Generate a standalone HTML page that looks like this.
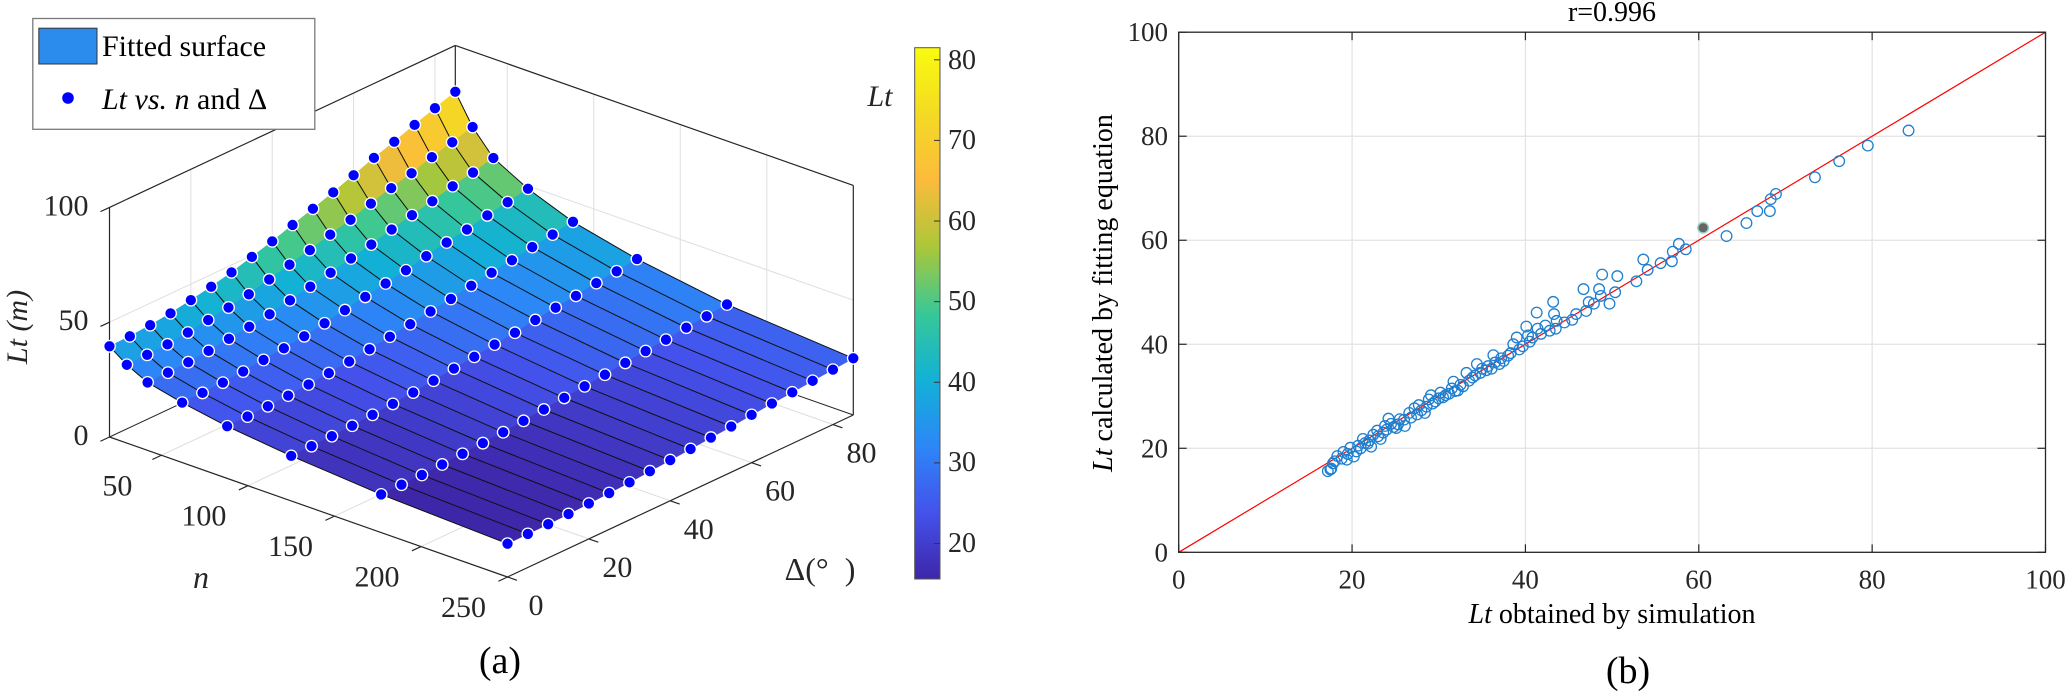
<!DOCTYPE html>
<html><head><meta charset="utf-8"><style>
html,body{margin:0;padding:0;background:#fff;}
svg, svg text{font-family:"Liberation Serif","Times New Roman",serif;}
</style></head><body>
<svg id="fig" width="2067" height="692" viewBox="0 0 2067 692" xmlns="http://www.w3.org/2000/svg" font-family="Liberation Serif, serif">
<defs>
<linearGradient id="parula" x1="0" y1="1" x2="0" y2="0">
<stop offset="0" stop-color="#3e26a8"/><stop offset="0.125" stop-color="#4452ec"/>
<stop offset="0.25" stop-color="#2c87f7"/><stop offset="0.375" stop-color="#12b1d6"/>
<stop offset="0.5" stop-color="#37c897"/><stop offset="0.625" stop-color="#abc739"/>
<stop offset="0.75" stop-color="#fbbb3c"/><stop offset="0.875" stop-color="#f4da24"/>
<stop offset="1" stop-color="#f9fb0e"/></linearGradient>
</defs>
<g id="plot3d" font-family="Liberation Serif, serif"></g>
<g id="scatter" font-family="Liberation Serif, serif"></g>
</svg>
<script>
// ---- 3D surface data ----
const nVals = [20,30,42,62,88,125,177,250];
const deltaVals = [0,5,10,15,20,25,30,35,40,45,50,55,60,65,70,75,80,85];
const ltRow20  = [39.5,39.7,40.4,41.4,43.0,44.7,46.8,49.4,52.0,55.0,57.9,60.9,64.2,67.6,70.5,73.7,76.8,79.8];
const ltRow30  = [34.1,34.3,34.7,35.7,37.0,38.3,39.9,42.2,44.5,46.7,49.3,51.6,54.5,57.1,59.4,62.3,64.6,67.1];
const ltRow42  = [29.6,29.7,30.1,30.9,32.0,33.1,34.4,36.3,38.1,40.0,42.1,44.0,46.4,48.5,50.4,52.8,54.6,56.8];
const ltRow62  = [26.1,26.2,26.5,27.2,28.1,29.0,30.1,31.6,33.2,34.8,36.5,38.1,40.1,41.9,43.4,45.4,47.0,48.7];
const ltRow88  = [22.7,22.8,23.1,23.6,24.3,25.1,26.0,27.2,28.5,29.8,31.2,32.5,34.1,35.6,36.9,38.5,39.8,41.2];
const ltRow125 = [19.6,19.7,19.9,20.3,20.9,21.5,22.3,23.3,24.4,25.4,26.6,27.6,29.0,30.2,31.2,32.6,33.6,34.8];
const ltRow177 = [16.6,16.7,16.8,17.2,17.7,18.2,18.8,19.6,20.4,21.3,22.2,23.1,24.1,25.1,25.9,27.0,27.8,28.8];
const ltRow250 = [14.5,14.6,14.7,15.0,15.4,15.8,16.3,17.0,17.7,18.4,19.2,19.9,20.8,21.6,22.3,23.2,23.9,24.7];
const ltGrid = [ltRow20,ltRow30,ltRow42,ltRow62,ltRow88,ltRow125,ltRow177,ltRow250];
const nTicks = [50,100,150,200,250];
const deltaTicks = [0,20,40,60,80];
const zTicks = [0,50,100];
const cbarTicks = [20,30,40,50,60,70,80];
const cLim = [15.6,81.5];

// ---- scatter data ----
const simX = [17.2,17.6,17.8,18.3,19.0,19.4,19.8,20.2,20.7,21.25,21.8,22.2,22.45,22.9,23.3,23.8,24.2,24.5,25.1,25.5,26.1,26.6,27.2,27.7,28.4,28.85,29.1,29.6,30.2,30.8,31.5,31.7,32.2,32.8,33.2,33.9,34.4,35.0,35.7,36.3,36.1,37.0,37.2,38.3,38.6,39.0,39.7,40.1,40.3,40.8,41.3,41.4,42.3,43.2,43.3,43.5,43.6,45.4,45.85,46.7,47.0,47.3,47.9,48.5,48.7,48.85,49.7,50.35,50.6,52.8,53.6,54.1,55.6,56.9,57.0,57.7,58.5,63.2,65.5,66.75,68.2,68.3,68.9,73.4,76.2,79.5,84.2,
17.5,18.0,18.8,19.5,20.5,21.0,21.5,22.0,23.0,23.6,24.0,24.8,25.3,26.0,26.8,27.5,28.0,28.6,29.3,30.0,30.5,31.2,31.9,32.5,33.5,34.2,34.8,35.5,36.5,37.5,38.0,39.3,40.5,41.8,42.8,44.5];
const fitY = [15.6,16.1,17.1,18.5,19.3,17.8,20.1,18.4,20.5,21.8,20.9,20.3,22.6,23.4,21.8,24.3,25.7,24.7,23.9,25.6,24.3,26.8,27.7,28.3,26.8,29.4,30.2,29.0,30.7,30.2,31.5,32.8,31.1,31.9,34.5,33.6,36.2,35.3,35.8,37.9,35.3,36.2,37.3,38.3,40.0,41.3,39.6,43.4,41.7,41.3,46.1,43.0,43.6,48.15,45.8,43.0,44.5,44.7,45.8,50.6,46.4,48.1,47.8,50.6,49.3,53.4,47.8,50.0,53.1,52.1,56.3,54.3,55.6,55.96,57.8,59.3,58.25,60.8,63.3,65.6,65.6,67.9,68.9,72.1,75.2,78.2,81.1,
15.9,17.5,18.0,18.9,19.4,20.0,21.0,21.5,22.3,23.0,23.6,24.1,24.6,25.5,25.9,26.5,27.3,28.0,28.6,29.6,29.8,30.5,31.0,32.2,33.0,34.0,34.5,35.0,36.5,36.8,37.8,39.0,40.5,42.0,42.6,44.2];
const highlightX = [60.5];
const highlightY = [62.4];
const axisTicks = [0,20,40,60,80,100];

const NS="http://www.w3.org/2000/svg";
const FONT="Liberation Serif, serif";
function mk(tag, attrs, parent){const e=document.createElementNS(NS,tag);for(const k in attrs)e.setAttribute(k,attrs[k]);if(tag==='text')e.setAttribute('font-family',FONT);parent.appendChild(e);return e;}

const pstops=[[62,38,168],[68,82,236],[44,135,247],[18,177,214],[55,200,151],[171,199,57],[251,187,60],[244,218,36],[249,251,14]];
function parula(v){let t=(v-cLim[0])/(cLim[1]-cLim[0]);t=Math.max(0,Math.min(1,t))*8;const i=Math.min(7,Math.floor(t)),f=t-i;const a=pstops[i],b=pstops[i+1];return `rgb(${a.map((c,k)=>Math.round(c+(b[k]-c)*f)).join(',')})`;}

const Lx=109.5,Ly=437,axn=398/230,ayn=140/230,axd=345.8/85,ayd=-162/85,kz=2.296;
function P(n,d,z){return [Lx+(n-20)*axn+d*axd, Ly+(n-20)*ayn+d*ayd-z*kz];}
const g3=document.getElementById('plot3d');
function line3(a,b,color,w,name){const l=mk('line',{x1:a[0],y1:a[1],x2:b[0],y2:b[1],stroke:color,'stroke-width':w},g3);return l;}
const nMin=20,nMax=250,dMax=85,zMax=100,grid='#dedede';
deltaTicks.filter(d=>d>0).forEach(d=>{line3(P(nMin,d,0),P(nMin,d,zMax),grid,1,'left-wall-gridline');line3(P(nMin,d,0),P(nMax,d,0),grid,1,'floor-gridline');});
nTicks.filter(n=>n<250).forEach(n=>{line3(P(n,dMax,0),P(n,dMax,zMax),grid,1,'right-wall-gridline');line3(P(n,0,0),P(n,dMax,0),grid,1,'floor-gridline');});
line3(P(nMin,0,50),P(nMin,dMax,50),grid,1,'left-wall-gridline');
line3(P(nMin,dMax,50),P(nMax,dMax,50),grid,1,'right-wall-gridline');
const bc='#262626';
line3(P(nMin,0,0),P(nMin,0,zMax),bc,1.2,'z-axis-line');
line3(P(nMin,0,zMax),P(nMin,dMax,zMax),bc,1.2,'box-edge');
line3(P(nMin,dMax,0),P(nMin,dMax,zMax),bc,1.2,'box-edge');
line3(P(nMin,dMax,zMax),P(nMax,dMax,zMax),bc,1.2,'box-edge');
line3(P(nMax,dMax,0),P(nMax,dMax,zMax),bc,1.2,'box-edge');
line3(P(nMin,0,0),P(nMin,dMax,0),bc,1,'box-edge');
line3(P(nMin,dMax,0),P(nMax,dMax,0),bc,1,'box-edge');
line3(P(nMin,0,0),P(nMax,0,0),bc,1.2,'n-axis-line');
line3(P(nMax,0,0),P(nMax,dMax,0),bc,1.2,'delta-axis-line');
const td=[-4.068,1.906],tl=Math.hypot(td[0],td[1]);
zTicks.forEach(z=>{const p=P(nMin,0,z);line3(p,[p[0]+td[0]/tl*10,p[1]+td[1]/tl*10],bc,1.2,'z-tick');
 const t=mk('text',{x:88.5,y:p[1]+8,'font-size':30,'text-anchor':'end',fill:'#262626'},g3);t.textContent=z;});
nTicks.forEach(n=>{const p=P(n,0,0);line3(p,[p[0]+td[0]/tl*10,p[1]+td[1]/tl*10],bc,1.2,'n-tick');
 const t=mk('text',{x:p[0]-44,y:p[1]+40,'font-size':30,'text-anchor':'middle',fill:'#262626'},g3);t.textContent=n;});
const tn=[axn,ayn],tnl=Math.hypot(axn,ayn);
deltaTicks.forEach(d=>{const p=P(nMax,d,0);line3(p,[p[0]+tn[0]/tnl*10,p[1]+tn[1]/tnl*10],bc,1.2,'delta-tick');
 const t=mk('text',{x:p[0]+28.5,y:p[1]+38,'font-size':30,'text-anchor':'middle',fill:'#262626'},g3);t.textContent=d;});
const faces=[];
for(let i=0;i<nVals.length-1;i++)for(let j=0;j<deltaVals.length-1;j++){
 const nc=(nVals[i]+nVals[i+1])/2,dc=(deltaVals[j]+deltaVals[j+1])/2;
 faces.push({i,j,key:(nc-20)*ayn+dc*ayd});}
faces.sort((a,b)=>a.key-b.key);
faces.forEach(f=>{const {i,j}=f;
 const pts=[[i,j],[i+1,j],[i+1,j+1],[i,j+1]].map(([a,b])=>P(nVals[a],deltaVals[b],ltGrid[a][b]));
 const zc=(ltGrid[i][j]+ltGrid[i+1][j]+ltGrid[i+1][j+1]+ltGrid[i][j+1])/4;
 const c=parula(zc);
 const pg=mk('polygon',{points:pts.map(p=>p.join(',')).join(' '),fill:c,stroke:c,'stroke-width':0.6},g3);
 
 });
deltaVals.forEach((d,j)=>{const pts=nVals.map((n,i)=>P(n,d,ltGrid[i][j]).join(','));
 const pl=mk('polyline',{points:pts.join(' '),fill:'none',stroke:'#111','stroke-width':1},g3);
 
 });
nVals.forEach((n,i)=>deltaVals.forEach((d,j)=>{const p=P(n,d,ltGrid[i][j]);
 const c=mk('ellipse',{cx:p[0],cy:p[1],rx:5.8,ry:5.8,fill:'#0000ff',stroke:'#fff','stroke-width':1.3},g3);
 
 }));

const gs=document.getElementById('scatter');
const X0=1178.7,X1=2045.5,Y0=552.3,Y1=32.2;
function sx(v){return X0+(X1-X0)*v/100;}
function sy(v){return Y0-(Y0-Y1)*v/100;}
axisTicks.forEach(v=>{
 if(v>0&&v<100){const a=mk('line',{x1:sx(v),y1:Y0,x2:sx(v),y2:Y1,stroke:'#e3e3e3','stroke-width':1.2},gs);
  const b=mk('line',{x1:X0,y1:sy(v),x2:X1,y2:sy(v),stroke:'#e3e3e3','stroke-width':1.2},gs);}
 [[sx(v),Y0,sx(v),Y0-8],[sx(v),Y1,sx(v),Y1+8],[X0,sy(v),X0+8,sy(v)],[X1,sy(v),X1-8,sy(v)]].forEach(q=>{const t=mk('line',{x1:q[0],y1:q[1],x2:q[2],y2:q[3],stroke:'#262626','stroke-width':1.2},gs);});
 const tx=mk('text',{x:sx(v),y:Y0+36,'font-size':27,'text-anchor':'middle',fill:'#262626'},gs);tx.textContent=v;
 const ty=mk('text',{x:1168,y:sy(v)+9,'font-size':27,'text-anchor':'end',fill:'#262626'},gs);ty.textContent=v;
});
const fl=mk('line',{x1:sx(0),y1:sy(0),x2:sx(100),y2:sy(100),stroke:'#ff0000','stroke-width':1.2},gs);

simX.forEach((x,k)=>{const c=mk('circle',{cx:sx(x),cy:sy(fitY[k]),r:5.3,fill:'none',stroke:'#1f7fcf','stroke-width':1.3},gs);
 
 });
highlightX.forEach((x,k)=>{const c=mk('circle',{cx:sx(x),cy:sy(highlightY[k]),r:5.3,fill:'#666',stroke:'#9ad0c8','stroke-width':1.5},gs);
 
 });
const bx=mk('rect',{x:X0,y:Y1,width:X1-X0,height:Y0-Y1,fill:'none',stroke:'#262626','stroke-width':1.3},gs);

</script>
<svg style="position:absolute;left:0;top:0" width="2067" height="692" font-family="Liberation Serif, serif">
<g font-family="Liberation Serif, serif" fill="#262626">
<rect x="32.8" y="18.5" width="282" height="110.8" fill="#fff" stroke="#7a7a7a" stroke-width="1.3"/>
<rect x="38.8" y="28.2" width="58.2" height="35.8" fill="#2b8cee" stroke="#333" stroke-width="1"/>
<text x="102" y="56" font-size="30" fill="#000">Fitted surface</text>
<circle cx="68" cy="98" r="5.8" fill="#0000ff"/>
<text x="102" y="109" font-size="30" fill="#000"><tspan font-style="italic">Lt vs. n</tspan> and Δ</text>
<text transform="translate(27,327) rotate(-90)" font-size="30" font-style="italic" text-anchor="middle">Lt (m)</text>
<text x="201" y="588" font-size="32" font-style="italic" text-anchor="middle">n</text>
<text x="820" y="580" font-size="32" text-anchor="middle" xml:space="preserve">Δ(°  )</text>
<rect x="914.7" y="47.7" width="25.3" height="531.3" fill="url(#parula)" stroke="#555" stroke-width="1"/>
<text x="880" y="106" font-size="30" font-style="italic" text-anchor="middle">Lt</text>
<g font-size="28">
<text x="948" y="69">80</text><text x="948" y="149">70</text><text x="948" y="230">60</text><text x="948" y="310">50</text><text x="948" y="391">40</text><text x="948" y="471">30</text><text x="948" y="552">20</text>
</g>
<text x="500" y="673" font-size="38" text-anchor="middle" fill="#000">(a)</text>
<text x="1612" y="21" font-size="28" text-anchor="middle" fill="#000">r=0.996</text>
<text x="1612" y="623" font-size="28" text-anchor="middle" fill="#000"><tspan font-style="italic">Lt</tspan> obtained by simulation</text>
<text transform="translate(1112,293) rotate(-90)" font-size="28" text-anchor="middle" fill="#000"><tspan font-style="italic">Lt</tspan> calculated by fitting equation</text>
<text x="1628" y="683" font-size="38" text-anchor="middle" fill="#000">(b)</text>
</g>
</svg>
<script>
(function(){const s=document.querySelectorAll('svg')[1];cbarTicks.forEach(v=>{const y=579-(v-cLim[0])/(cLim[1]-cLim[0])*531.3;
const l=document.createElementNS(NS,'line');l.setAttribute('x1',934);l.setAttribute('x2',940);l.setAttribute('y1',y);l.setAttribute('y2',y);l.setAttribute('stroke','#333');


s.appendChild(l);});})();
</script>
</body></html>
